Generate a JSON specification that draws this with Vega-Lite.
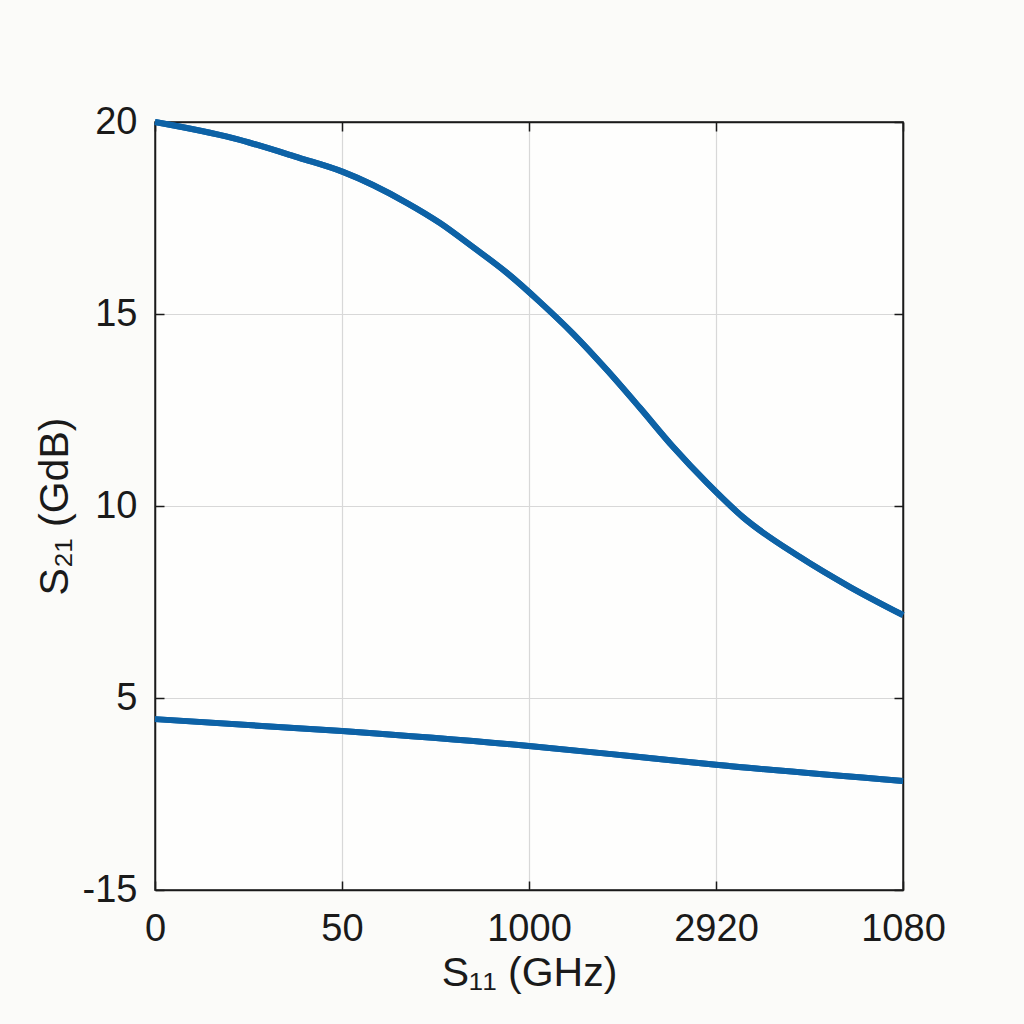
{
  "$schema": "https://vega.github.io/schema/vega-lite/v6.json",
  "autosize": {"type": "none"},
  "width": 748,
  "height": 768,
  "padding": {"left": 155, "top": 122, "right": 121, "bottom": 134},
  "background": "#fbfbf9",
  "config": {
    "view": {"stroke": "#1a1a1a", "strokeWidth": 1.5, "fill": "#fefefd"},
    "axis": {
      "labelFont": "Liberation Sans",
      "titleFont": "Liberation Sans",
      "labelFontSize": 38,
      "titleFontSize": 41,
      "titleFontWeight": "normal",
      "labelColor": "#1a1a1a",
      "titleColor": "#1a1a1a",
      "domainColor": "#1a1a1a",
      "domainWidth": 1.5,
      "tickColor": "#1a1a1a",
      "tickWidth": 1.5,
      "tickSize": -9,
      "labelFlush": false,
      "gridColor": "#d8d8d8",
      "gridWidth": 1.2
    }
  },
  "data": {
    "values": [
      {"series": "upper", "pos": 0.0, "val": 20.0},
      {"series": "upper", "pos": 0.417, "val": 19.58},
      {"series": "upper", "pos": 0.775, "val": 19.06},
      {"series": "upper", "pos": 1.005, "val": 18.7},
      {"series": "upper", "pos": 1.348, "val": 17.89},
      {"series": "upper", "pos": 1.524, "val": 17.37},
      {"series": "upper", "pos": 1.701, "val": 16.74},
      {"series": "upper", "pos": 1.882, "val": 16.07},
      {"series": "upper", "pos": 2.059, "val": 15.31},
      {"series": "upper", "pos": 2.235, "val": 14.49},
      {"series": "upper", "pos": 2.417, "val": 13.54},
      {"series": "upper", "pos": 2.594, "val": 12.55},
      {"series": "upper", "pos": 2.77, "val": 11.54},
      {"series": "upper", "pos": 2.952, "val": 10.6},
      {"series": "upper", "pos": 3.144, "val": 9.71},
      {"series": "upper", "pos": 3.449, "val": 8.67},
      {"series": "upper", "pos": 3.717, "val": 7.89},
      {"series": "upper", "pos": 4.0, "val": 7.16},
      {"series": "lower", "pos": 0.0, "val": 4.45},
      {"series": "lower", "pos": 1.0, "val": 4.14},
      {"series": "lower", "pos": 2.0, "val": 3.75},
      {"series": "lower", "pos": 2.54, "val": 3.49},
      {"series": "lower", "pos": 3.0, "val": 3.26},
      {"series": "lower", "pos": 4.0, "val": 2.84}
    ]
  },
  "layer": [
    {
      "mark": {"type": "line", "color": "#0d62a6", "strokeWidth": 6, "interpolate": "monotone"},
      "encoding": {
        "x": {
          "field": "pos", "type": "quantitative",
          "scale": {"domain": [0, 4], "nice": false, "zero": false},
          "axis": {
            "orient": "bottom",
            "values": [0, 1, 2, 3, 4],
            "labelExpr": "datum.value == 0 ? '0' : datum.value == 1 ? '50' : datum.value == 2 ? '1000' : datum.value == 3 ? '2920' : '1080'",
            "labelPadding": 29,
            "title": "S₁₁ (GHz)",
            "titlePadding": 5,
            "grid": true
          }
        },
        "y": {
          "field": "val", "type": "quantitative",
          "scale": {"domain": [0, 20], "nice": false, "zero": false},
          "axis": {
            "orient": "left",
            "values": [0, 5, 10, 15, 20],
            "labelExpr": "datum.value == 0 ? '-15' : datum.label",
            "labelPadding": 27,
            "title": "S₂₁ (GdB)",
            "titlePadding": 6,
            "grid": true
          }
        },
        "detail": {"field": "series"}
      }
    },
    {
      "mark": {"type": "line", "color": "#0d62a6", "strokeWidth": 6, "interpolate": "monotone"},
      "encoding": {
        "x": {
          "field": "pos", "type": "quantitative",
          "axis": {"orient": "top", "values": [0, 1, 2, 3, 4], "labels": false, "title": null, "grid": false}
        },
        "y": {
          "field": "val", "type": "quantitative",
          "axis": {"orient": "right", "values": [0, 5, 10, 15, 20], "labels": false, "title": null, "grid": false}
        },
        "detail": {"field": "series"}
      }
    }
  ],
  "resolve": {"axis": {"x": "independent", "y": "independent"}}
}
